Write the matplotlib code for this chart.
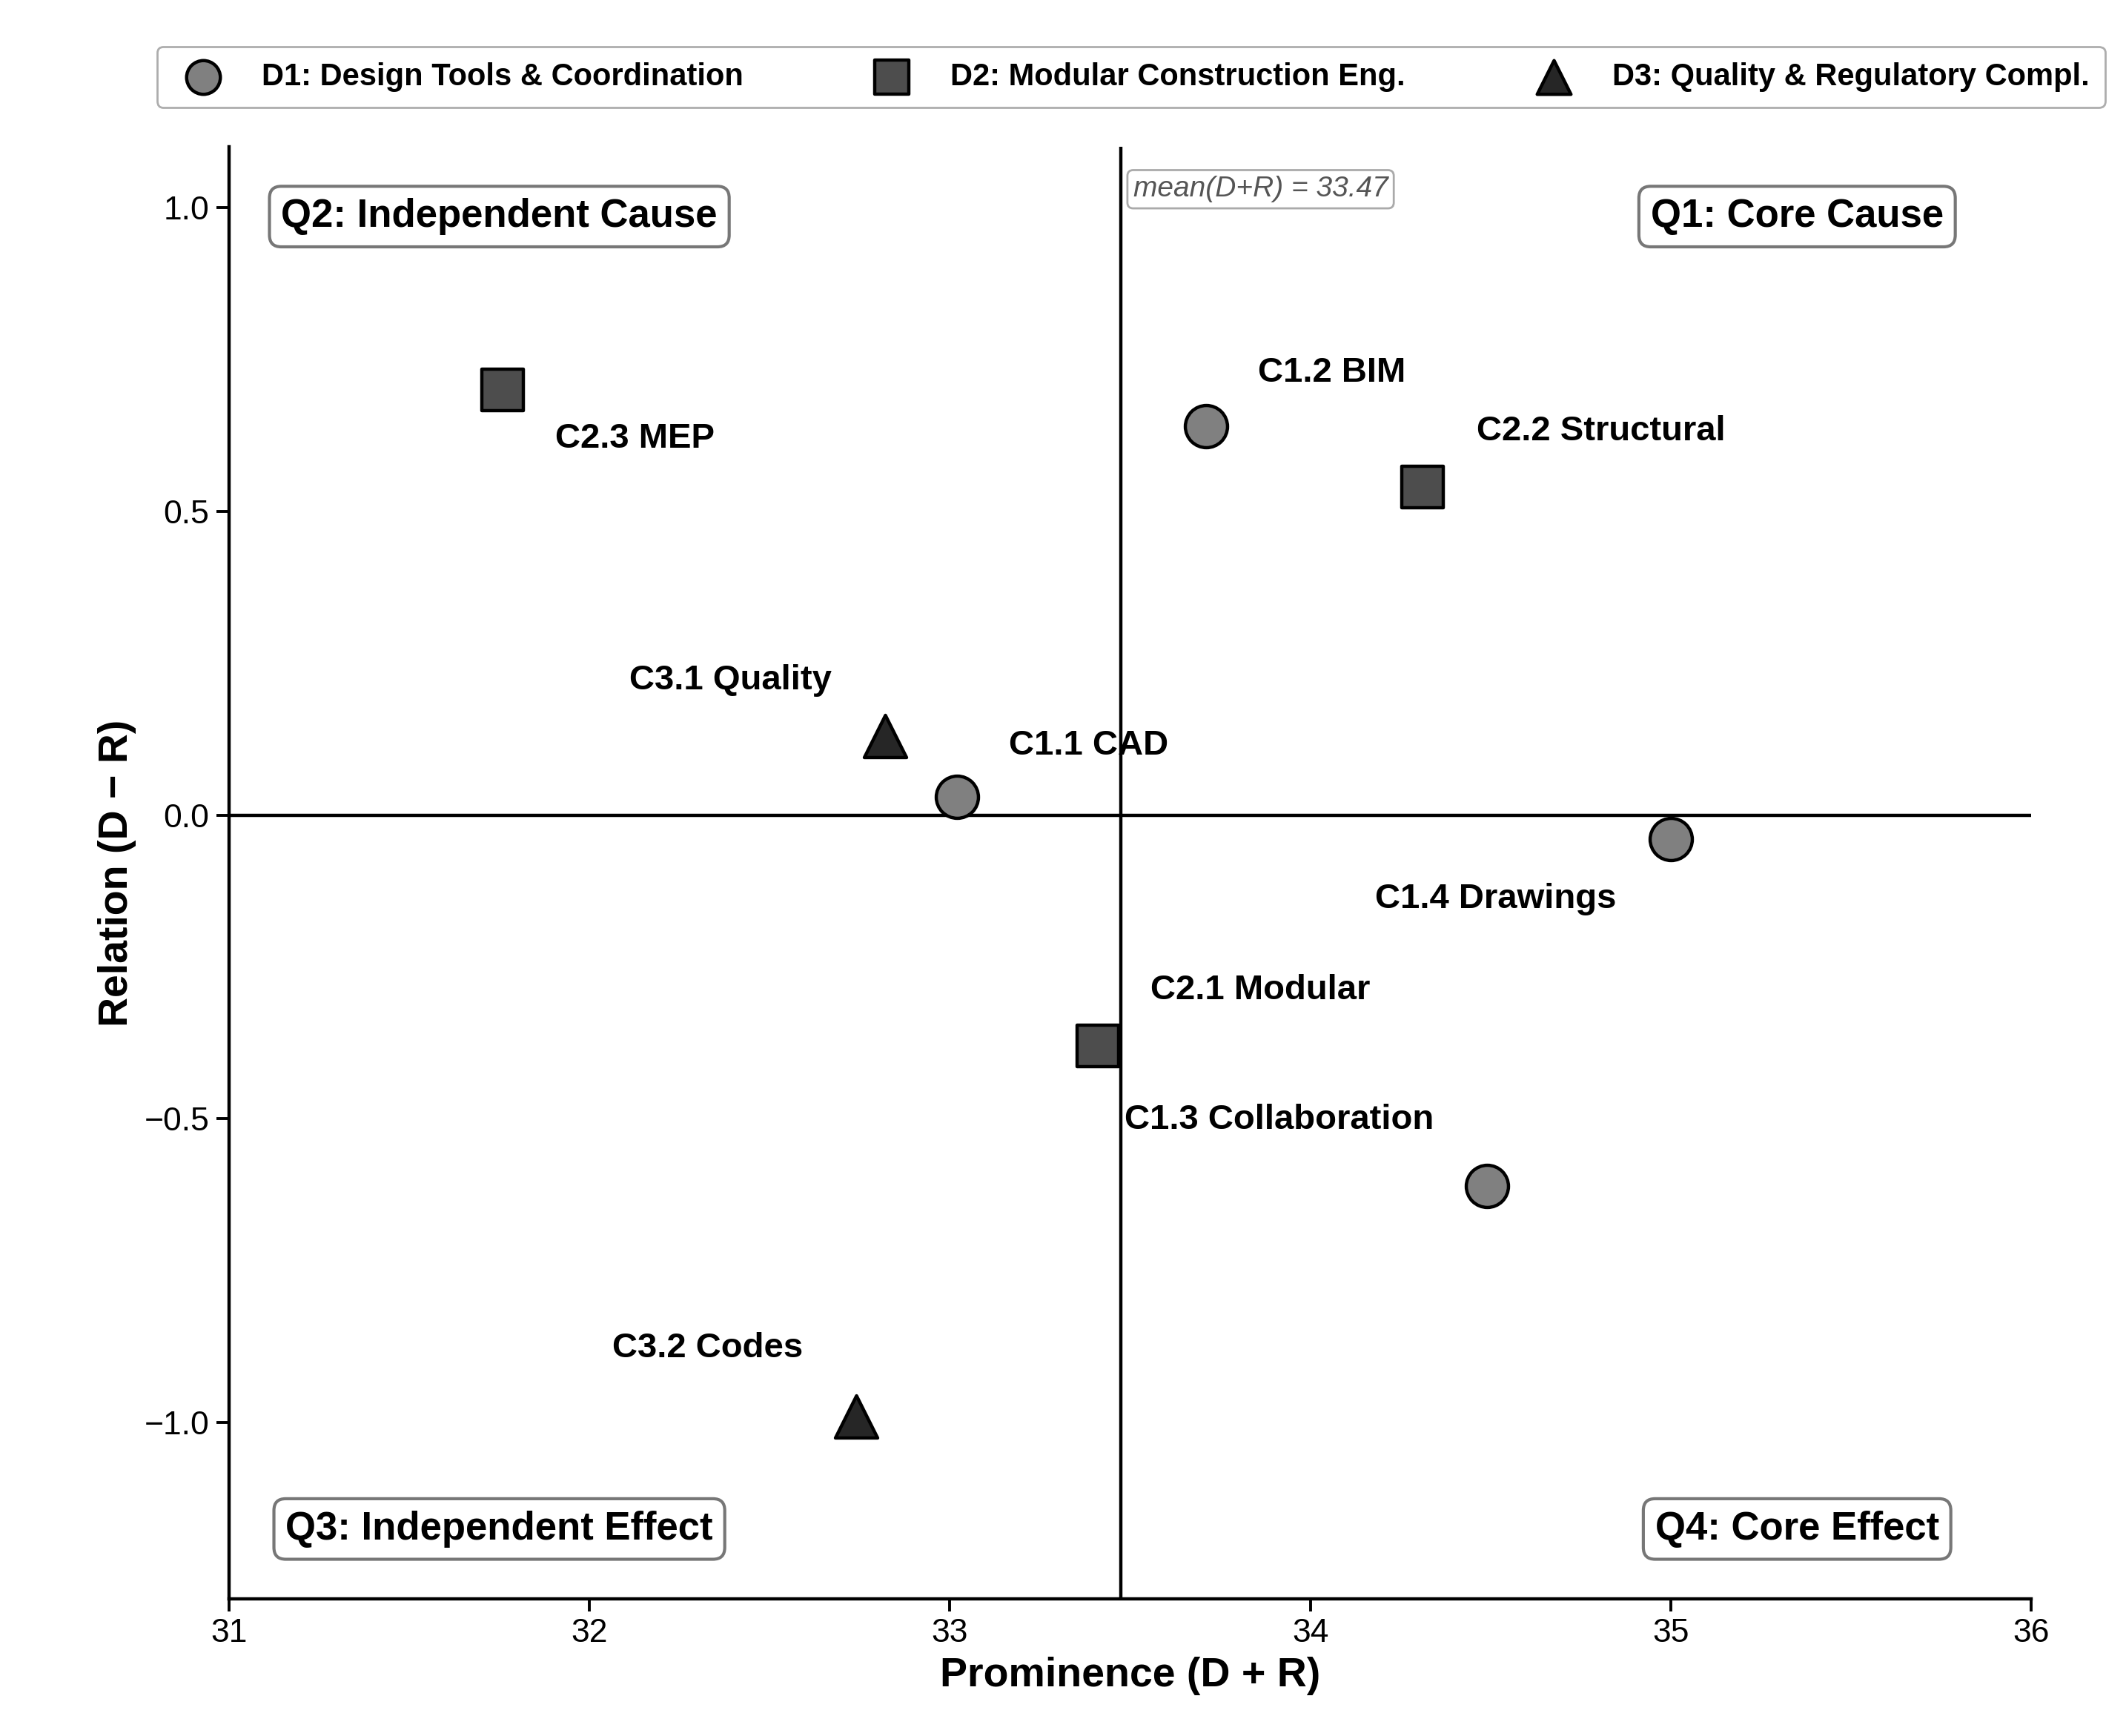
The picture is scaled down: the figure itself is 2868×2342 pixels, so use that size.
import matplotlib.pyplot as plt

plt.rcParams['font.family'] = ['Liberation Sans', 'DejaVu Sans']

# criteria, grouped by dimension
labels = ['C1.1 CAD', 'C1.2 BIM', 'C1.3 Collaboration', 'C1.4 Drawings',
          'C2.1 Modular', 'C2.2 Structural', 'C2.3 MEP',
          'C3.1 Quality', 'C3.2 Codes']
dim = ['D1', 'D1', 'D1', 'D1', 'D2', 'D2', 'D2', 'D3', 'D3']
prominence = [33.02, 33.71, 34.49, 35.00, 33.41, 34.31, 31.76, 32.82, 32.74]
relation = [0.03, 0.64, -0.61, -0.04, -0.38, 0.54, 0.70, 0.13, -0.99]

dim_names = {'D1': 'D1: Design Tools & Coordination',
             'D2': 'D2: Modular Construction Eng.',
             'D3': 'D3: Quality & Regulatory Compl.'}
dim_marker = {'D1': 'o', 'D2': 's', 'D3': '^'}
dim_color = {'D1': '#808080', 'D2': '#4d4d4d', 'D3': '#262626'}

# label offsets in points
offsets = [(64, 25), (61, 26), (-101, 32), (-85, -29),
           (79, 27), (87, 27), (64, -24), (-75, 27), (-72, 33)]

mean_x = sum(prominence) / len(prominence)

fig = plt.figure(figsize=(14.34, 11.71), dpi=200)
ax = fig.add_axes([0.1077, 0.079, 0.8478, 0.8365])

for d in ['D1', 'D2', 'D3']:
    xs = [p for p, g in zip(prominence, dim) if g == d]
    ys = [r for r, g in zip(relation, dim) if g == d]
    ax.scatter(xs, ys, marker=dim_marker[d], s=420, c=dim_color[d],
               edgecolors='black', linewidths=1.6, zorder=3,
               label=dim_names[d])

ax.axvline(mean_x, color='black', lw=1.6, zorder=1)
ax.axhline(0, color='black', lw=1.6, zorder=1)

for lab, x, y, off in zip(labels, prominence, relation, offsets):
    ax.annotate(lab, (x, y), xytext=off, textcoords='offset points',
                ha='center', va='center', fontsize=17, fontweight='bold')

ax.text(mean_x + 0.035, 1.03, f'mean(D+R) = {mean_x:.2f}', fontsize=14,
        style='italic', color='#555555', ha='left', va='center',
        bbox=dict(boxstyle='round,pad=0.2', fc='white', ec='#aaaaaa', lw=1))

quads = [('Q2: Independent Cause', 31.75, 0.985),
         ('Q1: Core Cause', 35.35, 0.985),
         ('Q3: Independent Effect', 31.75, -1.175),
         ('Q4: Core Effect', 35.35, -1.175)]
for txt, qx, qy in quads:
    ax.text(qx, qy, txt, fontsize=19, fontweight='bold', ha='center',
            va='center',
            bbox=dict(boxstyle='round,pad=0.3', fc='white', ec='#777777', lw=1.5))

ax.set_xlim(31, 36)
ax.set_ylim(-1.29, 1.1)
ax.set_xticks([31, 32, 33, 34, 35, 36])
ax.set_yticks([-1.0, -0.5, 0.0, 0.5, 1.0])
ax.set_yticklabels(['\u22121.0', '\u22120.5', '0.0', '0.5', '1.0'])
ax.tick_params(labelsize=16, length=6, width=1.4)
for s in ['top', 'right']:
    ax.spines[s].set_visible(False)
for s in ['left', 'bottom']:
    ax.spines[s].set_linewidth(1.6)

ax.set_xlabel('Prominence (D + R)', fontsize=20, fontweight='bold')
ax.set_ylabel('Relation (D \u2212 R)', fontsize=20, fontweight='bold')

leg = fig.legend(loc='upper center', bbox_to_anchor=(0.532, 0.982), ncol=3,
                 fontsize=15, frameon=True, fancybox=True,
                 edgecolor='#999999', markerscale=0.8, columnspacing=3.8,
                 handletextpad=0.9, borderpad=0.5)
leg.get_frame().set_boxstyle('round', pad=0, rounding_size=0.2)
for t in leg.get_texts():
    t.set_fontweight('bold')

fig.savefig('out.png', dpi=200)
